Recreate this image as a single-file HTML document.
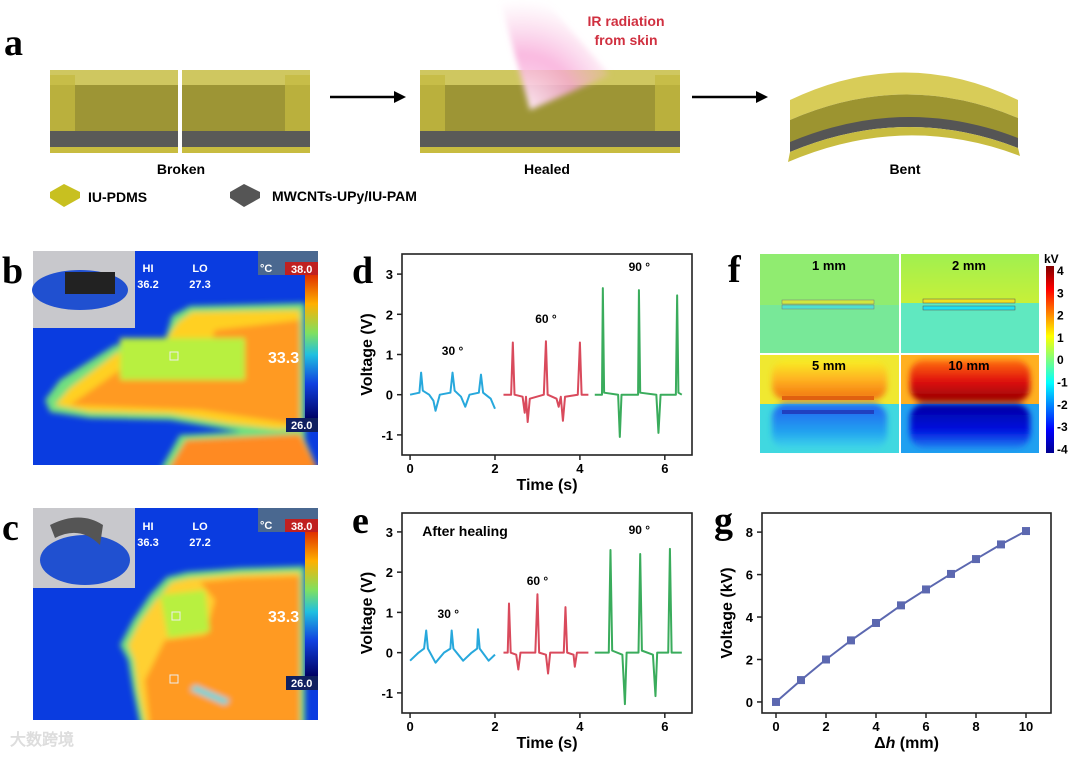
<!DOCTYPE html>
<html><head><meta charset="utf-8"><style>
html,body{margin:0;padding:0;background:#fff;}
body{width:1080px;height:756px;overflow:hidden;position:relative;font-family:"Liberation Sans",sans-serif;}
svg text{font-family:"Liberation Sans",sans-serif;font-weight:bold;}
.serif{font-family:"Liberation Serif",serif !important;}
</style></head><body>
<svg id="fig" width="1080" height="756" viewBox="0 0 1080 756" xmlns="http://www.w3.org/2000/svg">
<defs>
<filter id="blur6"><feGaussianBlur stdDeviation="6"/></filter>
<filter id="blur3"><feGaussianBlur stdDeviation="3"/></filter>
<filter id="blur2"><feGaussianBlur stdDeviation="2"/></filter>
<linearGradient id="jet" x1="0" y1="1" x2="0" y2="0">
<stop offset="0" stop-color="#00008f"/><stop offset="0.125" stop-color="#0000ff"/><stop offset="0.375" stop-color="#00ffff"/><stop offset="0.5" stop-color="#7fff7f"/><stop offset="0.625" stop-color="#ffff00"/><stop offset="0.875" stop-color="#ff0000"/><stop offset="1" stop-color="#800000"/></linearGradient>
<linearGradient id="therm" x1="0" y1="1" x2="0" y2="0">
<stop offset="0" stop-color="#000060"/><stop offset="0.25" stop-color="#1040e0"/><stop offset="0.45" stop-color="#20c0e0"/><stop offset="0.6" stop-color="#80e060"/><stop offset="0.8" stop-color="#ffb000"/><stop offset="1" stop-color="#e03000"/></linearGradient>
<linearGradient id="f5top" x1="0" y1="0" x2="0" y2="1"><stop offset="0" stop-color="#f8f020"/><stop offset="0.5" stop-color="#ffb020"/><stop offset="1" stop-color="#f07010"/></linearGradient>
<linearGradient id="f5bot" x1="0" y1="0" x2="0" y2="1"><stop offset="0" stop-color="#2060f0"/><stop offset="0.6" stop-color="#20a0f0"/><stop offset="1" stop-color="#40d8e8"/></linearGradient>
<linearGradient id="f10top" x1="0" y1="0" x2="0" y2="1"><stop offset="0" stop-color="#ff7010"/><stop offset="0.5" stop-color="#e01010"/><stop offset="1" stop-color="#900000"/></linearGradient>
<linearGradient id="f10bot" x1="0" y1="0" x2="0" y2="1"><stop offset="0" stop-color="#0000a0"/><stop offset="0.6" stop-color="#0010e0"/><stop offset="1" stop-color="#2080f0"/></linearGradient>
<linearGradient id="f2top" x1="0" y1="0" x2="0" y2="1"><stop offset="0" stop-color="#a0f050"/><stop offset="1" stop-color="#f0f020"/></linearGradient>
<radialGradient id="irg" cx="0.2" cy="1" r="1"><stop offset="0" stop-color="#fff0f8"/><stop offset="0.5" stop-color="#f8a8d8" stop-opacity="0.8"/><stop offset="1" stop-color="#f8c0e0" stop-opacity="0"/></radialGradient>
</defs>

<!-- Panel a -->
<g>
<text class="serif" x="4" y="55" font-size="38">a</text>
<g id="slabs"></g>
<text x="181" y="174" font-size="14" text-anchor="middle">Broken</text>
<g><line x1="330" y1="97" x2="398" y2="97" stroke="#000" stroke-width="2.5"/><polygon points="406,97 394,91 394,103" fill="#000"/></g>
<polygon points="500,0 545,0 610,75 530,110" fill="url(#irg)" filter="url(#blur3)"/>
<text x="626" y="26" font-size="14" fill="#d03040" text-anchor="middle">IR radiation</text>
<text x="626" y="45" font-size="14" fill="#d03040" text-anchor="middle">from skin</text>
<text x="547" y="174" font-size="14" text-anchor="middle">Healed</text>
<g><line x1="692" y1="97" x2="760" y2="97" stroke="#000" stroke-width="2.5"/><polygon points="768,97 756,91 756,103" fill="#000"/></g>
<g>
<path d="M790,100 Q905,45 1018,100 L1018,118 Q905,70 790,120 Z" fill="#d8cc58"/>
<path d="M790,120 Q905,70 1018,118 L1018,140 Q905,95 790,145 Z" fill="#9c9430"/>
<path d="M790,142 Q905,94 1018,138 L1018,148 Q905,104 790,152 Z" fill="#555"/>
<path d="M790,152 Q905,104 1018,148 L1020,156 Q905,112 788,162 Z" fill="#c8bc40"/>
</g>
<text x="905" y="174" font-size="14" text-anchor="middle">Bent</text>
<g><polygon points="50,192 64,184 80,192 80,198 64,207 50,198" fill="#c8c020"/><text x="88" y="202" font-size="14">IU-PDMS</text></g>
<g><polygon points="230,192 244,184 260,192 260,198 244,207 230,198" fill="#555"/><text x="272" y="201" font-size="14">MWCNTs-UPy/IU-PAM</text></g>
</g>

<!-- Panel b -->
<g>
<text class="serif" x="2" y="283" font-size="38">b</text>
<svg x="33" y="251" width="285" height="214" viewBox="33 251 285 214">
<rect x="33" y="251" width="285" height="214" fill="#0a3ce0"/>
<g filter="url(#blur3)">
<polygon points="45,400 60,380 115,345 165,340 172,316 190,306 305,303 305,440 230,430 170,420 90,418 50,412" fill="#70e080"/>
<polygon points="55,405 70,388 118,352 160,348 178,322 192,312 300,310 300,432 230,424 170,414 90,412" fill="#ffd020"/>
<polygon points="70,405 120,370 200,375 215,330 300,320 300,425 200,410" fill="#ff9a20"/>
<polygon points="160,470 180,435 300,428 318,470" fill="#70e080"/>
<polygon points="168,470 186,440 300,434 318,470" fill="#ff8a20"/>
<rect x="120" y="338" width="125" height="42" fill="#b8f040"/>
</g></svg>
<rect x="33" y="251" width="102" height="77" fill="#c8c8cc"/>
<ellipse cx="80" cy="290" rx="48" ry="20" fill="#2050d0"/>
<rect x="65" y="272" width="50" height="22" fill="#222"/>
<text x="148" y="272" font-size="11" fill="#fff" text-anchor="middle">HI</text>
<text x="148" y="288" font-size="11" fill="#fff" text-anchor="middle">36.2</text>
<text x="200" y="272" font-size="11" fill="#fff" text-anchor="middle">LO</text>
<text x="200" y="288" font-size="11" fill="#fff" text-anchor="middle">27.3</text>
<rect x="258" y="251" width="60" height="24" fill="#4a6890"/>
<text x="260" y="272" font-size="11" fill="#fff">°C</text>
<rect x="285" y="262" width="33" height="13" fill="#c02020"/><text x="291" y="273" font-size="11" fill="#fff">38.0</text>
<rect x="305" y="275" width="13" height="145" fill="url(#therm)"/>
<rect x="286" y="418" width="32" height="14" fill="#102060"/><text x="291" y="429" font-size="11" fill="#fff">26.0</text>
<text x="268" y="363" font-size="16" fill="#fff">33.3</text>
<rect x="170" y="352" width="8" height="8" fill="none" stroke="#eee"/>
</g>

<!-- Panel c -->
<g>
<text class="serif" x="2" y="540" font-size="38">c</text>
<svg x="33" y="508" width="285" height="212" viewBox="33 508 285 212">
<rect x="33" y="508" width="285" height="212" fill="#0a3ce0"/>
<g filter="url(#blur3)">
<polygon points="120,645 133,620 150,595 167,577 187,572 240,568 305,566 305,725 140,725 133,690 128,660" fill="#70e080"/>
<polygon points="128,645 140,622 156,600 172,582 190,578 240,574 300,572 300,725 145,725 138,690 134,660" fill="#ffd030"/>
<polygon points="165,640 205,635 215,600 200,582 240,578 300,576 300,725 150,725 145,680" fill="#ff9a20"/>
<polygon points="160,595 205,590 210,632 168,638" fill="#b8f040"/>
<polygon points="190,690 225,705 230,700 195,685" fill="#60d8e0"/>
</g></svg>
<rect x="33" y="508" width="102" height="80" fill="#c8c8cc"/>
<ellipse cx="85" cy="560" rx="45" ry="25" fill="#2050d0"/>
<path d="M50,525 Q80,510 103,525 L100,545 Q80,525 55,538 Z" fill="#555"/>
<text x="148" y="530" font-size="11" fill="#fff" text-anchor="middle">HI</text>
<text x="148" y="546" font-size="11" fill="#fff" text-anchor="middle">36.3</text>
<text x="200" y="530" font-size="11" fill="#fff" text-anchor="middle">LO</text>
<text x="200" y="546" font-size="11" fill="#fff" text-anchor="middle">27.2</text>
<rect x="258" y="508" width="60" height="24" fill="#4a6890"/>
<text x="260" y="529" font-size="11" fill="#fff">°C</text>
<rect x="285" y="519" width="33" height="13" fill="#c02020"/><text x="291" y="530" font-size="11" fill="#fff">38.0</text>
<rect x="305" y="532" width="13" height="145" fill="url(#therm)"/>
<rect x="286" y="676" width="32" height="14" fill="#102060"/><text x="291" y="687" font-size="11" fill="#fff">26.0</text>
<text x="268" y="622" font-size="16" fill="#fff">33.3</text>
<rect x="172" y="612" width="8" height="8" fill="none" stroke="#eee"/>
<rect x="170" y="675" width="8" height="8" fill="none" stroke="#eee"/>
</g>

<!-- Panel f -->
<g>
<text class="serif" x="728" y="282" font-size="38">f</text>
<rect x="760" y="254" width="139" height="99" fill="#90ec70"/>
<rect x="760" y="305" width="139" height="48" fill="#78e898"/>
<rect x="900" y="254" width="139" height="99" fill="url(#f2top)"/>
<rect x="900" y="303" width="139" height="50" fill="#60e8c0"/>
<rect x="760" y="355" width="139" height="98" fill="#f0e830"/>
<rect x="772" y="360" width="115" height="40" rx="14" fill="url(#f5top)" filter="url(#blur3)"/>
<rect x="760" y="404" width="139" height="49" fill="#40d8e0"/>
<rect x="772" y="404" width="115" height="45" rx="14" fill="url(#f5bot)" filter="url(#blur3)"/>
<rect x="900" y="355" width="139" height="98" fill="#ffb020"/>
<rect x="910" y="360" width="120" height="42" rx="14" fill="url(#f10top)" filter="url(#blur3)"/>
<rect x="900" y="404" width="139" height="49" fill="#20a0f0"/>
<rect x="910" y="404" width="120" height="44" rx="14" fill="url(#f10bot)" filter="url(#blur3)"/>
<rect x="782" y="300" width="92" height="4" fill="#d0e840" stroke="#777" stroke-width="0.5"/>
<rect x="782" y="305" width="92" height="4" fill="#50e0d0" stroke="#777" stroke-width="0.5"/>
<rect x="923" y="299" width="92" height="4" fill="#f0e020" stroke="#555" stroke-width="0.5"/>
<rect x="923" y="306" width="92" height="4" fill="#20e0f0" stroke="#555" stroke-width="0.5"/>
<rect x="782" y="396" width="92" height="4" fill="#e06010"/>
<rect x="782" y="410" width="92" height="4" fill="#2040c0"/>
<rect x="899" y="254" width="2" height="199" fill="#fff"/><rect x="760" y="353" width="279" height="2" fill="#fff"/>
<text x="829" y="270" font-size="13" text-anchor="middle">1 mm</text>
<text x="969" y="270" font-size="13" text-anchor="middle">2 mm</text>
<text x="829" y="370" font-size="13" text-anchor="middle">5 mm</text>
<text x="969" y="370" font-size="13" text-anchor="middle">10 mm</text>
<rect x="1046" y="266" width="8" height="187" fill="url(#jet)"/>
<text x="1044" y="263" font-size="12">kV</text>
<g id="cbTicks" font-size="12"></g>
</g>

<g id="panelD"><text class="serif" x="352" y="283" font-size="38">d</text></g>
<g id="panelE"><text class="serif" x="352" y="533" font-size="38">e</text></g>
<g id="panelG"><text class="serif" x="714" y="533" font-size="38">g</text></g>
<text x="10" y="745" font-size="16" fill="#ddd">大数跨境</text>
</svg>
<script>
// ---- data ----
const cbTickLabels = ["4","3","2","1","0","-1","-2","-3","-4"];
const d30 = [[0,0],[0.22,0.05],[0.26,0.55],[0.3,0.1],[0.45,0],[0.55,-0.15],[0.6,-0.4],[0.7,0],[0.95,0.05],[1.0,0.55],[1.05,0.1],[1.2,-0.05],[1.3,-0.3],[1.4,0],[1.62,0.05],[1.67,0.5],[1.72,0.05],[1.9,-0.1],[2.0,-0.35]];
const d60 = [[2.2,0],[2.38,0],[2.42,1.3],[2.46,0],[2.65,-0.05],[2.7,-0.45],[2.73,-0.05],[2.77,-0.68],[2.82,-0.1],[3.15,0],[3.2,1.33],[3.24,0],[3.45,-0.1],[3.5,-0.3],[3.55,-0.05],[3.6,-0.65],[3.65,-0.05],[3.95,0],[4.0,1.3],[4.04,0],[4.2,0]];
const d90 = [[4.35,0],[4.52,0],[4.54,2.65],[4.57,0.05],[4.9,0],[4.94,-1.05],[4.98,0],[5.37,0],[5.39,2.6],[5.42,0.05],[5.8,0],[5.85,-0.95],[5.9,0],[6.26,0],[6.29,2.47],[6.32,0.05],[6.4,0]];
const e30 = [[0,-0.2],[0.2,0],[0.33,0.1],[0.38,0.55],[0.42,0.1],[0.6,-0.25],[0.8,0],[0.95,0.1],[0.98,0.55],[1.02,0.1],[1.25,-0.2],[1.45,0],[1.58,0.1],[1.6,0.58],[1.64,0.1],[1.85,-0.2],[2.0,-0.05]];
const e60 = [[2.2,0],[2.3,0],[2.33,1.22],[2.37,0],[2.5,-0.05],[2.55,-0.42],[2.6,0],[2.95,0],[3.0,1.45],[3.04,0],[3.2,-0.05],[3.25,-0.52],[3.3,0],[3.62,0],[3.66,1.13],[3.7,0],[3.85,-0.05],[3.88,-0.35],[3.93,0],[4.2,0]];
const e90 = [[4.35,0],[4.68,0],[4.72,2.55],[4.76,0.05],[5.0,-0.05],[5.06,-1.28],[5.1,0],[5.38,0],[5.42,2.45],[5.46,0.05],[5.72,-0.05],[5.78,-1.08],[5.82,0],[6.08,0],[6.12,2.58],[6.16,0],[6.4,0]];
const gX = [0,1,2,3,4,5,6,7,8,9,10];
const gY = [0,1.03,2.0,2.9,3.72,4.55,5.3,6.03,6.73,7.42,8.05];
const dXTicks = [0,2,4,6];
const dYTicks = [-1,0,1,2,3];
const gXTicks = [0,2,4,6,8,10];
const gYTicks = [0,2,4,6,8];

const NS="http://www.w3.org/2000/svg";
function mk(tag,attrs,parent){const e=document.createElementNS(NS,tag);for(const k in attrs)e.setAttribute(k,attrs[k]);parent.appendChild(e);return e;}

// slabs for panel a
const slabs=document.getElementById('slabs');
function slab(x0,x1,broken){
  const g=mk('g',{},slabs);
  
  
  mk('rect',{x:x0,y:70,width:x1-x0,height:15,fill:'#cfc760'},g);
  mk('rect',{x:x0,y:85,width:x1-x0,height:46,fill:'#9d9535'},g);
  mk('rect',{x:x0,y:75,width:25,height:72,fill:'#c4ba40',opacity:0.75},g);
  mk('rect',{x:x1-25,y:75,width:25,height:72,fill:'#c4ba40',opacity:0.75},g);
  mk('rect',{x:x0,y:131,width:x1-x0,height:16,fill:'#5a5a58'},g);
  mk('rect',{x:x0,y:147,width:x1-x0,height:6,fill:'#c8bc40'},g);
  if(broken) mk('rect',{x:(x0+x1)/2-2,y:66,width:4,height:92,fill:'#fff'},g);
}
slab(50,310,true); slab(420,680,false);

const cb=document.getElementById('cbTicks');
cbTickLabels.forEach((t,i)=>{const el=mk('text',{x:1057,y:275+i*22.3},cb);el.textContent=t;

});

function axesPanel(g,o){
  const sx=v=>o.x0+(v-o.xmin)*(o.x1-o.x0)/(o.xmax-o.xmin);
  const sy=v=>o.y1-(v-o.ymin)*(o.y1-o.y0)/(o.ymax-o.ymin);
  const fr=mk('rect',{x:o.x0,y:o.y0,width:o.x1-o.x0,height:o.y1-o.y0,fill:'none',stroke:'#222','stroke-width':1.6},g);
  
  
  o.xt.forEach(v=>{mk('line',{x1:sx(v),x2:sx(v),y1:o.y1,y2:o.y1+5,stroke:'#222','stroke-width':1.5},g);
    const t=mk('text',{x:sx(v),y:o.y1+18,'font-size':13,'text-anchor':'middle'},g);t.textContent=v;
    
    });
  o.yt.forEach(v=>{mk('line',{x1:o.x0-5,x2:o.x0,y1:sy(v),y2:sy(v),stroke:'#222','stroke-width':1.5},g);
    const t=mk('text',{x:o.x0-9,y:sy(v)+5,'font-size':13,'text-anchor':'end'},g);t.textContent=v;
    
    });
  const xl=mk('text',{x:(o.x0+o.x1)/2,y:o.y1+35,'font-size':16,'text-anchor':'middle'},g);xl.innerHTML=o.xlabel;
  
  
  const cy=(o.y0+o.y1)/2;
  const yl=mk('text',{x:o.x0-30,y:cy,'font-size':16,'text-anchor':'middle',transform:`rotate(-90 ${o.x0-30} ${cy})`},g);yl.textContent=o.ylabel;
  
  
  return {sx,sy};
}
function series(g,ax,pts,color,name){
  const p=mk('polyline',{points:pts.map(q=>ax.sx(q[0])+','+ax.sy(q[1])).join(' '),fill:'none',stroke:color,'stroke-width':2,'stroke-linejoin':'round'},g);
  
  
}
function lab(g,x,y,txt,size){const t=mk('text',{x:x,y:y,'font-size':size||12,'text-anchor':'middle'},g);t.textContent=txt;
  
  }

const gd=document.getElementById('panelD');
const axD=axesPanel(gd,{x0:402,x1:692,y0:254,y1:455,xmin:-0.19,xmax:6.64,ymin:-1.5,ymax:3.5,xt:dXTicks,yt:dYTicks,xlabel:'Time (s)',ylabel:'Voltage (V)'});
series(gd,axD,d30,'#27a8dc','trace-d-30deg');series(gd,axD,d60,'#d94a5c','trace-d-60deg');series(gd,axD,d90,'#3aac5c','trace-d-90deg');
lab(gd,axD.sx(1.0),355,'30 °');lab(gd,axD.sx(3.2),323,'60 °');lab(gd,axD.sx(5.4),271,'90 °');

const ge=document.getElementById('panelE');
const axE=axesPanel(ge,{x0:402,x1:692,y0:513,y1:713,xmin:-0.19,xmax:6.64,ymin:-1.5,ymax:3.47,xt:dXTicks,yt:dYTicks,xlabel:'Time (s)',ylabel:'Voltage (V)'});
series(ge,axE,e30,'#27a8dc','trace-e-30deg');series(ge,axE,e60,'#d94a5c','trace-e-60deg');series(ge,axE,e90,'#3aac5c','trace-e-90deg');
lab(ge,axE.sx(0.9),618,'30 °');lab(ge,axE.sx(3.0),585,'60 °');lab(ge,axE.sx(5.4),534,'90 °');
lab(ge,465,536,'After healing',14);

const gg=document.getElementById('panelG');
const axG=axesPanel(gg,{x0:762,x1:1051,y0:513,y1:713,xmin:-0.56,xmax:11,ymin:-0.52,ymax:8.9,xt:gXTicks,yt:gYTicks,xlabel:'Δ<tspan font-style="italic">h</tspan> (mm)',ylabel:'Voltage (kV)'});
series(gg,axG,gX.map((x,i)=>[x,gY[i]]),'#5c68b0','voltage-line');
gX.forEach((x,i)=>{const r=mk('rect',{x:axG.sx(x)-4,y:axG.sy(gY[i])-4,width:8,height:8,fill:'#5c68b0'},gg);
  
  });
</script>
</body></html>
